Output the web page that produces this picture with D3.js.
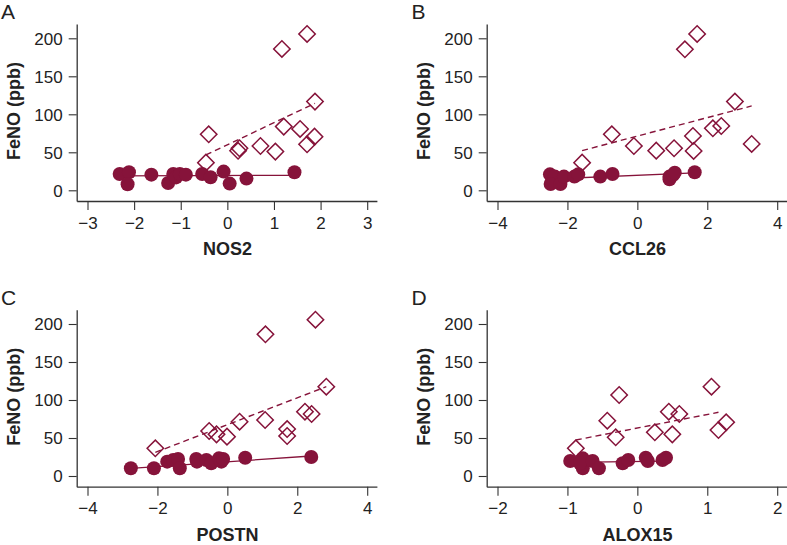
<!DOCTYPE html>
<html>
<head>
<meta charset="utf-8">
<script src="https://cdn.jsdelivr.net/npm/d3@7"></script>
<style>
  html, body { margin: 0; padding: 0; background: #fff; }
  svg { display: block; }
  text { font-family: "Liberation Sans", Arial, Helvetica, sans-serif; }
</style>
</head>
<body>
<svg id="chart" width="787" height="545"></svg>
<script>
// ---- Data ----
const panelLetters = ["A", "B", "C", "D"];
const genes = ["NOS2", "CCL26", "POSTN", "ALOX15"];
const yLabel = "FeNO (ppb)";
const yTicks = [0, 50, 100, 150, 200];
const xTicksNOS2 = [-3, -2, -1, 0, 1, 2, 3];
const xTicksCCL26 = [-4, -2, 0, 2, 4];
const xTicksPOSTN = [-4, -2, 0, 2, 4];
const xTicksALOX15 = [-2, -1, 0, 1, 2];

// High FeNO group (open diamonds): [gene expression, FeNO]
const highNOS2 = [[1.71,205.7],[1.17,186],[1.88,116.7],[1.21,83.8],[1.56,80.7],[-0.40,73.7],[1.87,70.6],[1.71,60.5],[0.71,58.3],[0.26,55.3],[0.23,52],[1.03,50.9],[-0.46,36.4]];
const highCCL26 = [[1.71,205.7],[1.36,185.5],[2.79,116.7],[2.40,84.6],[2.16,81.6],[-0.73,73.7],[1.59,71.5],[3.27,61],[-0.10,58.3],[1.05,55.3],[0.54,52.2],[1.61,51.8],[-1.58,36.4]];
const highPOSTN = [[2.52,205.7],[1.09,186.4],[2.83,117.5],[2.22,84.6],[2.41,81.6],[1.08,73.7],[0.35,71.5],[1.71,61.8],[1.71,52.6],[-0.52,59.2],[-0.31,54.8],[-0.01,51.8],[-2.06,36.4]];
const highALOX15 = [[1.06,117.5],[-0.26,106.6],[0.45,84.6],[0.60,81.6],[-0.43,72.8],[1.27,70.6],[1.16,60.5],[0.25,57.5],[0.50,54.8],[-0.31,50.9],[-0.88,36.4]];

// Low FeNO group (filled circles)
const lowNOS2 = [[-2.31,21.5],[-2.11,23.7],[-2.14,7.9],[-1.63,20.6],[-1.27,9.6],[-1.16,21.5],[-1.10,17],[-1.02,21.5],[-0.89,20.6],[-0.54,21.5],[-0.36,17.1],[-0.08,24.6],[0.05,8.8],[0.41,15.4],[1.44,23.7]];
const lowCCL26 = [[-2.50,21],[-2.36,18],[-2.48,8.3],[-2.20,8.3],[-2.10,18],[-1.80,18],[-1.69,21],[-1.06,18],[-0.71,21.5],[0.92,18],[0.92,14.5],[1.02,20],[1.07,23.2],[1.64,23.7]];
const lowPOSTN = [[-2.76,10.1],[-2.10,10.1],[-1.72,18.9],[-1.55,21],[-1.41,22.4],[-1.36,10.1],[-0.89,22.4],[-0.87,18.9],[-0.60,21],[-0.46,16.7],[-0.24,23.2],[-0.17,18.9],[-0.12,22.4],[0.51,24.1],[2.40,25]];
const lowALOX15 = [[-0.96,19.7],[-0.78,23.2],[-0.78,10.1],[-0.82,16.7],[-0.64,19.7],[-0.55,10.1],[-0.21,16.7],[-0.13,21],[0.12,24.1],[0.15,19.7],[0.36,21],[0.41,24.1]];

// Fitted lines: [[x1,y1],[x2,y2]]
const fitHighNOS2 = [[-0.46,46.5],[1.88,114.5]];
const fitLowNOS2 = [[-2.31,18.9],[1.44,19.7]];
const fitHighCCL26 = [[-1.58,52.2],[3.27,111]];
const fitLowCCL26 = [[-2.5,14.9],[1.64,22.8]];
const fitHighPOSTN = [[-2.06,31.1],[2.83,117.5]];
const fitLowPOSTN = [[-2.76,10.1],[2.40,26.3]];
const fitHighALOX15 = [[-0.88,47.4],[1.16,83.8]];
const fitLowALOX15 = [[-0.96,18],[0.41,19.5]];

const xTicksAll = [xTicksNOS2, xTicksCCL26, xTicksPOSTN, xTicksALOX15];
const highAll = [highNOS2, highCCL26, highPOSTN, highALOX15];
const lowAll = [lowNOS2, lowCCL26, lowPOSTN, lowALOX15];
const fitHighAll = [fitHighNOS2, fitHighCCL26, fitHighPOSTN, fitHighALOX15];
const fitLowAll = [fitLowNOS2, fitLowCCL26, fitLowPOSTN, fitLowALOX15];

// ---- Layout ----
const color = "#86133a";
const axisColor = "#333";
const offsets = [[0, 0], [410, 0], [0, 285.7], [410, 285.7]];
const tickPx = [87.5, 367.2];      // extreme x ticks
const axisPxX = [76.7, 376.9];     // x axis line extent
const yPx = [190.3, 38.3];         // y = 0 and y = 200
const axisPxY = [201, 24];         // y axis line extent

const svg = d3.select("#chart");

panelLetters.forEach((letter, i) => {
  const g = svg.append("g").attr("transform", `translate(${offsets[i][0]},${offsets[i][1]})`);
  const xt = xTicksAll[i];

  const x0 = d3.scaleLinear().domain([xt[0], xt[xt.length - 1]]).range(tickPx);
  const x = d3.scaleLinear().domain(axisPxX.map(p => x0.invert(p))).range(axisPxX);
  const y0 = d3.scaleLinear().domain([0, 200]).range(yPx);
  const y = d3.scaleLinear().domain(axisPxY.map(p => y0.invert(p))).range(axisPxY);

  // x axis
  const xa = g.append("g").attr("transform", `translate(0,${axisPxY[0]})`)
    .call(d3.axisBottom(x).tickValues(xt).tickSizeInner(9).tickSizeOuter(0).tickPadding(5)
      .tickFormat(d3.format("d")));
  // y axis
  const ya = g.append("g").attr("transform", `translate(${axisPxX[0]},0)`)
    .call(d3.axisLeft(y).tickValues(yTicks).tickSizeInner(8).tickSizeOuter(0).tickPadding(6)
      .tickFormat(d3.format("d")));
  [xa, ya].forEach(a => {
    a.select(".domain").attr("stroke", axisColor).attr("stroke-width", 1.3);
    a.selectAll(".tick line").attr("stroke", axisColor).attr("stroke-width", 1.1);
    a.selectAll(".tick text").attr("fill", "#222").style("font-size", "17px")
      .style("font-family", "'Liberation Sans', Arial, sans-serif");
  });
  xa.selectAll(".tick text").attr("dy", null).attr("y", 27.5);
  ya.selectAll(".tick text").attr("dy", "0.35em");

  // titles
  g.append("text").attr("x", 227.5).attr("y", 255).attr("text-anchor", "middle")
    .style("font-size", "18px").style("font-weight", "bold").attr("fill", "#222")
    .text(genes[i]);
  g.append("text").attr("transform", `translate(19.5,111) rotate(-90)`)
    .attr("text-anchor", "middle")
    .style("font-size", "18px").style("font-weight", "bold").attr("fill", "#222")
    .text(yLabel);
  g.append("text").attr("x", i % 2 === 0 ? 1 : 1.5).attr("y", 19)
    .style("font-size", "21px").attr("fill", "#222")
    .text(letter);

  const line = d3.line().x(d => x(d[0])).y(d => y(d[1]));

  // fit lines
  g.append("path").datum(fitHighAll[i]).attr("d", line)
    .attr("fill", "none").attr("stroke", color).attr("stroke-width", 1.4)
    .attr("stroke-dasharray", "6,4");
  g.append("path").datum(fitLowAll[i]).attr("d", line)
    .attr("fill", "none").attr("stroke", color).attr("stroke-width", 1.3);

  // diamonds
  const diamond = d3.symbol().type(d3.symbolSquare).size(135);
  g.selectAll(".hi").data(highAll[i]).join("path")
    .attr("class", "hi")
    .attr("d", diamond)
    .attr("transform", d => `translate(${x(d[0])},${y(d[1])}) rotate(45)`)
    .attr("fill", "none").attr("stroke", color).attr("stroke-width", 1.5);

  // circles
  g.selectAll(".lo").data(lowAll[i]).join("circle")
    .attr("class", "lo")
    .attr("cx", d => x(d[0])).attr("cy", d => y(d[1])).attr("r", 7)
    .attr("fill", color);
});
</script>
</body>
</html>
